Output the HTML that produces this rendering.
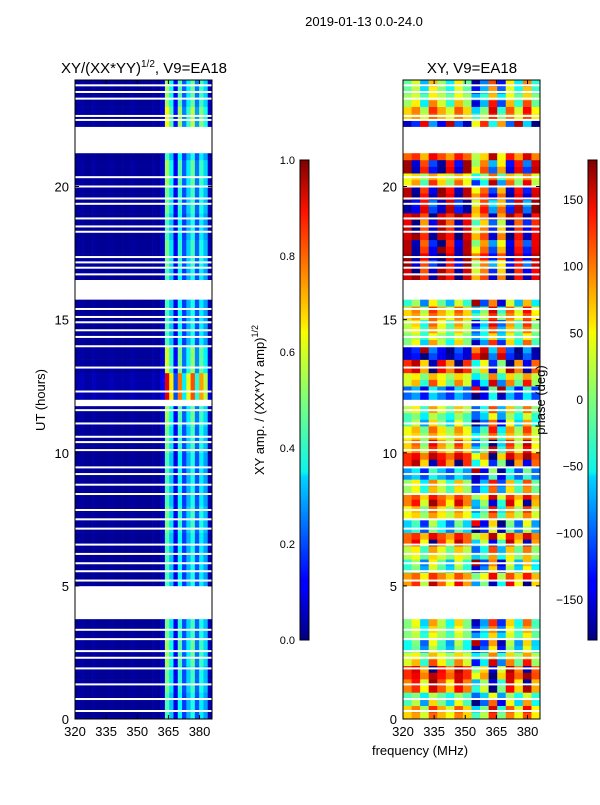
<!DOCTYPE html>
<html><head><meta charset="utf-8">
<style>
body{margin:0;background:#fff;}
svg text{font-family:"Liberation Sans","DejaVu Sans",sans-serif;}
</style></head>
<body>
<svg id="fig" width="600" height="800" viewBox="0 0 600 800" xmlns="http://www.w3.org/2000/svg">
<defs>
<linearGradient id="jet" x1="0" y1="1" x2="0" y2="0">
<stop offset="0" stop-color="#00007f"/><stop offset="0.11" stop-color="#0000ff"/><stop offset="0.125" stop-color="#0000ff"/>
<stop offset="0.34" stop-color="#00d4ff"/><stop offset="0.35" stop-color="#0cf4eb"/><stop offset="0.5" stop-color="#7dff7a"/>
<stop offset="0.64" stop-color="#f6ff00"/><stop offset="0.66" stop-color="#ffe600"/><stop offset="0.89" stop-color="#ff1300"/><stop offset="1" stop-color="#7f0000"/>
</linearGradient>
</defs>
<text x="364" y="26" font-size="13" text-anchor="middle">2019-01-13 0.0-24.0</text>
<text x="144" y="73" font-size="15" text-anchor="middle">XY/(XX*YY)<tspan font-size="10" dy="-6">1/2</tspan><tspan dy="6">, V9=EA18</tspan></text>
<text x="472" y="73" font-size="15" text-anchor="middle">XY, V9=EA18</text>
<g id="amp"></g>
<g id="pha"></g>
<g id="axes"></g>
<rect x="300" y="160" width="9" height="480" fill="url(#jet)" stroke="#000" stroke-width="1"/>
<rect x="588" y="160" width="9" height="480" fill="url(#jet)" stroke="#000" stroke-width="1"/>
<text transform="translate(45,400) rotate(-90)" font-size="13" text-anchor="middle">UT (hours)</text>
<text x="420" y="755" font-size="13" text-anchor="middle">frequency (MHz)</text>
<text transform="translate(264,400) rotate(-90)" font-size="13" text-anchor="middle">XY amp. / (XX*YY amp)<tspan font-size="9" dy="-6">1/2</tspan></text>
<text transform="translate(545,400) rotate(-90)" font-size="13" text-anchor="middle">phase (deg)</text>
</svg>
<script>
// ---- data ----
const freqEdges = [320, 386];
const timeRange = [0, 24];
const nCols = 32;
const ampColProfile = [0.02,0.03,0.02,0.02,0.03,0.02,0.02,0.02,0.03,0.02,0.02,0.02,0.02,0.03,0.02,0.02,0.02,0.02,0.03,0.02,0.06,0.45,0.32,0.1,0.38,0.18,0.3,0.4,0.2,0.36,0.28,0.05];
const ampHourFactor = [1,1.1,1.2,1.1,1,1,1,1.1,1,1,1.1,1.2,2,1.3,1,1,1,1.1,1,1.1,1.2,1,1.4,1.2];
const phaseHalfHour = [60,-20,90,120,30,-40,0,0,0,0,80,-30,20,100,-60,40,90,10,-80,120,60,40,-20,20,-100,30,120,-150,0,20,60,-30,-20,150,170,160,150,140,-170,160,40,170,100,-120,-160,60,10,-10];
const phaseColOffset = [0,20,-30,40,10,-20,30,0,-80,-40,60,-60,30,-20,50,-10];
const gapIntervals = [[3.8,5.0],[11.85,12.1],[15.8,16.5],[21.2,22.3]];
const thinGaps = [0.3,0.75,1.3,1.9,2.3,2.55,3.0,3.35,5.2,5.55,5.85,6.2,6.55,7.15,7.5,7.85,8.45,8.8,9.2,9.45,10.1,10.4,10.6,11.1,11.6,12.3,13.2,14.0,14.35,14.6,14.9,15.1,15.4,16.7,16.95,17.15,17.35,18.3,18.5,18.8,19.35,19.55,20.0,20.35,22.5,22.65,23.3,23.55,23.8];
const ampTicks = [0,0.2,0.4,0.6,0.8,1.0];
const ampTickLabels = ["0.0","0.2","0.4","0.6","0.8","1.0"];
const phaseTicks = [-150,-100,-50,0,50,100,150];
const xTicks = [320,335,350,365,380];
const yTicks = [0,5,10,15,20];
// ---- helpers ----
const NS="http://www.w3.org/2000/svg";
function jet(v){v=Math.max(0,Math.min(1,v));
 const r=Math.max(0,Math.min(1,1.5-Math.abs(4*v-3))),g=Math.max(0,Math.min(1,1.5-Math.abs(4*v-2))),b=Math.max(0,Math.min(1,1.5-Math.abs(4*v-1)));
 return `rgb(${Math.round(r*255)},${Math.round(g*255)},${Math.round(b*255)})`;}
function mk(tag,attrs,parent){const e=document.createElementNS(NS,tag);for(const k in attrs)e.setAttribute(k,attrs[k]);parent.appendChild(e);return e;}
const panels=[{x0:75,x1:212,g:'amp'},{x0:403,x1:540,g:'pha'}];
const Y0=719,Y1=80;
function ys(t){return Y0-(t-timeRange[0])/(timeRange[1]-timeRange[0])*(Y0-Y1);}
function xs(p,f){return p.x0+(f-freqEdges[0])/(freqEdges[1]-freqEdges[0])*(p.x1-p.x0);}
function flagged(t){return gapIntervals.some(g=>t>=g[0]&&t<g[1]);}
const dT=0.25, dF=(freqEdges[1]-freqEdges[0])/nCols;
panels.forEach((p,pi)=>{
 const g=document.getElementById(p.g);
 for(let t=timeRange[0];t<timeRange[1]-1e-9;t+=dT){
  if(flagged(t+dT/2))continue;
  for(let c=0;c<nCols;c++){
   let col;
   if(pi===0){col=jet(ampColProfile[c]*ampHourFactor[Math.floor(t)]);}
   else{let ph=phaseHalfHour[Math.floor(t*2)]+phaseColOffset[Math.floor(c/2)]*(1+(Math.floor(t*4)%3)*0.5);
    ph=((ph+180)%360+360)%360-180; col=jet((ph+180)/360);}
   const x=xs(p,freqEdges[0]+c*dF), x2=xs(p,freqEdges[0]+(c+1)*dF);
   const r=mk('rect',{x:x.toFixed(2),y:ys(t+dT).toFixed(2),width:(x2-x+0.3).toFixed(2),height:(ys(t)-ys(t+dT)+0.3).toFixed(2),fill:col},g);
   
   
  }
 }
 thinGaps.forEach(t=>{const r=mk('rect',{x:p.x0,y:ys(t)-1,width:p.x1-p.x0,height:2,fill:'#fff'},g);
  
  });
 const ax=document.getElementById('axes');
 const fr=mk('rect',{x:p.x0,y:Y1,width:p.x1-p.x0,height:Y0-Y1,fill:'none',stroke:'#000','stroke-width':1},ax);
 
 
 xTicks.forEach(f=>{const x=xs(p,f);
  mk('line',{x1:x,y1:Y0,x2:x,y2:Y0-4,stroke:'#000'},ax);mk('line',{x1:x,y1:Y1,x2:x,y2:Y1+4,stroke:'#000'},ax);
  const tx=mk('text',{x:x,y:Y0+17,'font-size':13,'text-anchor':'middle'},ax);tx.textContent=f;
  
  });
 yTicks.forEach(t=>{const y=ys(t);
  mk('line',{x1:p.x0,y1:y,x2:p.x0+4,y2:y,stroke:'#000'},ax);mk('line',{x1:p.x1,y1:y,x2:p.x1-4,y2:y,stroke:'#000'},ax);
  const tx=mk('text',{x:p.x0-6,y:y+5,'font-size':13,'text-anchor':'end'},ax);tx.textContent=t;
  
  });
});
const ax=document.getElementById('axes');
ampTicks.forEach((v,i)=>{const y=640-v*480;
 mk('line',{x1:300,y1:y,x2:303,y2:y,stroke:'#000'},ax);
 const tx=mk('text',{x:295,y:y+4,'font-size':11,'text-anchor':'end'},ax);tx.textContent=ampTickLabels[i];
 
 });
phaseTicks.forEach(v=>{const y=640-(v+180)/360*480;
 mk('line',{x1:588,y1:y,x2:591,y2:y,stroke:'#000'},ax);
 const tx=mk('text',{x:583,y:y+4,'font-size':12,'text-anchor':'end'},ax);tx.textContent=v<0?'\u2212'+(-v):v;
 
 });
</script>
</body></html>
